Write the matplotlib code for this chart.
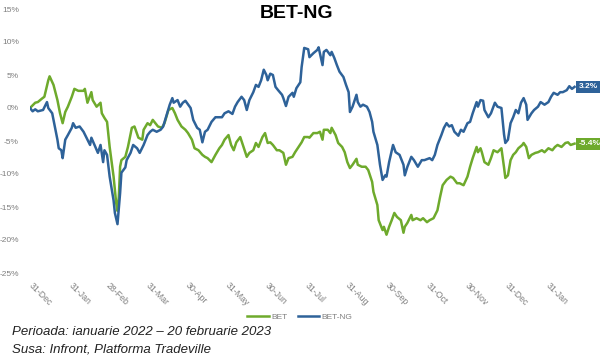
import numpy as np
import matplotlib
matplotlib.use("Agg")
import matplotlib.pyplot as plt
import matplotlib.dates as mdates

# days since 31-Dec-2021, % change
bet_days = [0, 4, 6, 9, 11, 14, 15, 18, 21, 23, 25, 27, 29, 32, 34, 37, 41, 42, 44, 47,
            48, 51, 54, 55, 57, 59, 61, 64, 66, 67, 68, 69, 70, 73, 75, 78, 80, 83, 86, 87,
            90, 92, 94, 96, 98, 101, 103, 106, 109, 111, 113, 116, 119, 121, 124, 126, 129, 132, 134, 136,
            139, 142, 145, 147, 149, 152, 154, 156, 158, 161, 163, 166, 168, 171, 173, 175, 178, 180, 182, 184,
            186, 189, 191, 194, 196, 198, 201, 203, 205, 208, 210, 213, 214, 217, 220, 222, 224, 225, 228, 230,
            231, 234, 236, 239, 241, 243, 245, 247, 250, 251, 254, 257, 259, 262, 263, 266, 267, 270, 271, 273,
            275, 277, 279, 281, 284, 286, 287, 289, 292, 293, 296, 299, 301, 304, 306, 309, 312, 314, 316, 319,
            322, 324, 327, 329, 332, 335, 337, 339, 342, 343, 345, 346, 348, 351, 353, 355, 358, 361, 363, 364,
            366, 368, 370, 372, 374, 377, 378, 380, 382, 384, 387, 389, 392, 394, 397, 400, 402, 404, 407, 410,
            412, 414, 417]
bet_vals = [0.0, 0.8, 0.9, 1.4, 1.7, 4.2, 4.8, 3.5, 1.2, -0.8, -2.3, -0.6, 0.2, 1.7, 2.9, 2.6, 2.6, 2.9, 0.8, 2.4,
            1.2, 0.2, 0.8, -0.8, -1.5, -2.1, -5.9, -10.4, -14.4, -15.6, -13.5, -8.9, -7.9, -7.4, -5.9, -3.0, -2.8, -4.5, -4.8, -3.3,
            -2.3, -2.6, -1.8, -2.3, -2.8, -3.0, -2.3, -0.3, 0.0, -0.8, -1.8, -2.8, -3.3, -3.8, -4.8, -6.1, -6.4, -7.1, -7.4, -7.6,
            -8.2, -7.1, -6.1, -5.6, -4.8, -4.1, -5.6, -6.4, -5.2, -4.4, -5.6, -7.4, -6.8, -6.4, -5.3, -5.9, -4.4, -3.8, -5.3, -5.2,
            -5.6, -6.4, -6.4, -6.8, -8.6, -7.6, -7.4, -6.7, -6.1, -5.2, -4.4, -4.4, -4.5, -3.8, -3.8, -3.6, -4.8, -3.3, -3.3, -3.8,
            -3.0, -4.1, -5.3, -5.9, -6.7, -8.2, -9.1, -8.6, -7.7, -8.6, -8.9, -8.9, -9.4, -11.2, -12.7, -14.7, -17.0, -18.5, -18.0, -19.2,
            -18.0, -17.0, -15.9, -16.5, -17.0, -18.9, -18.0, -17.4, -16.2, -17.0, -16.7, -17.0, -16.7, -17.3, -17.0, -16.7, -15.5, -13.5, -11.7, -10.9,
            -10.4, -10.6, -11.4, -11.4, -11.7, -10.4, -8.9, -7.6, -5.9, -6.7, -6.1, -6.7, -8.2, -8.6, -7.6, -6.4, -6.7, -6.1, -9.0, -10.6,
            -10.2, -7.9, -7.1, -6.7, -6.1, -5.6, -5.3, -5.9, -7.6, -7.1, -6.8, -6.7, -6.4, -6.7, -6.1, -6.4, -5.9, -5.6, -5.9, -5.3,
            -5.2, -5.6, -5.4]

betng_days = [0, 2, 4, 6, 10, 13, 14, 17, 19, 21, 22, 24, 25, 27, 29, 32, 33, 35, 38, 41,
              44, 46, 47, 50, 52, 54, 56, 57, 59, 61, 64, 65, 67, 69, 70, 73, 74, 77, 79, 82,
              84, 87, 90, 92, 94, 97, 100, 102, 105, 107, 109, 110, 113, 115, 117, 119, 123, 125, 128, 130,
              132, 134, 136, 139, 142, 144, 147, 149, 152, 155, 157, 159, 162, 164, 166, 168, 171, 173, 175, 177,
              179, 181, 182, 184, 186, 188, 190, 193, 194, 196, 198, 201, 202, 204, 207, 208, 210, 213, 214, 217,
              220, 221, 224, 225, 227, 230, 231, 233, 235, 237, 240, 242, 244, 245, 247, 250, 251, 253, 255, 258,
              260, 262, 263, 266, 268, 270, 272, 273, 275, 278, 280, 283, 286, 287, 289, 292, 294, 297, 300, 302,
              306, 308, 310, 312, 315, 317, 319, 321, 323, 325, 328, 330, 332, 335, 337, 339, 342, 343, 345, 347,
              348, 351, 353, 356, 358, 361, 363, 364, 366, 368, 370, 372, 374, 376, 378, 380, 381, 384, 386, 389,
              391, 394, 397, 399, 401, 404, 406, 408, 411, 413, 415, 417]
betng_vals = [0.0, -0.5, -0.2, -0.5, -0.3, 0.9, 0.0, -0.8, -2.8, -4.8, -6.1, -6.4, -7.6, -4.8, -4.1, -3.0, -2.3, -3.0, -2.8, -3.6,
              -4.8, -5.6, -4.5, -5.9, -6.8, -5.6, -8.2, -6.4, -7.1, -10.4, -14.0, -15.9, -17.6, -12.9, -9.8, -9.0, -7.9, -6.8, -5.6, -6.1,
              -6.8, -5.6, -4.1, -3.6, -3.3, -3.6, -3.3, -2.8, -0.8, 0.5, 1.5, 0.8, 1.2, 0.2, 0.8, 1.1, 0.0, -1.8, -3.0, -3.3,
              -5.2, -3.6, -3.3, -2.1, -1.4, -1.4, -1.4, -0.8, -0.5, -0.9, 0.2, 0.9, 1.7, 1.2, -0.3, 1.2, 2.4, 3.5, 3.2, 4.2,
              5.8, 5.0, 4.2, 5.2, 5.0, 3.2, 2.7, 2.0, 1.5, 0.3, 1.7, 2.3, 1.7, 3.0, 3.9, 6.2, 9.1, 8.9, 7.7, 8.3,
              8.8, 9.2, 6.5, 8.5, 8.8, 8.0, 8.5, 7.6, 6.5, 5.5, 4.7, 3.5, 2.4, -0.6, 0.2, 2.0, 0.9, 0.2, 0.5, 0.2,
              -0.6, -2.1, -3.6, -5.6, -8.6, -10.9, -10.2, -10.4, -8.2, -5.6, -6.7, -7.1, -8.6, -10.2, -8.9, -7.4, -7.9, -8.9, -7.9, -7.9,
              -7.6, -7.9, -7.1, -5.6, -4.1, -3.0, -2.3, -2.8, -2.6, -3.6, -4.2, -3.3, -3.6, -2.3, -2.1, -0.8, 0.9, 0.2, 1.2, 1.1,
              -0.3, -1.4, -0.8, 0.8, 0.2, 0.0, -4.0, -5.3, -4.8, -2.3, -1.4, -0.3, -0.8, 0.8, 1.5, 0.5, -1.8, -0.8, -0.3, 0.2,
              0.9, 0.5, 0.9, 1.7, 2.3, 2.0, 2.4, 2.4, 2.7, 3.3, 2.9, 3.2]

tick_dates = ["2021-12-31", "2022-01-31", "2022-02-28", "2022-03-31", "2022-04-30", "2022-05-31",
              "2022-06-30", "2022-07-31", "2022-08-31", "2022-09-30", "2022-10-31", "2022-11-30",
              "2022-12-31", "2023-01-31"]

green = "#6EAA2C"
blue = "#2E6299"
start = np.datetime64("2021-12-31")
bet_dates = start + np.array(bet_days).astype("timedelta64[D]")
betng_dates = start + np.array(betng_days).astype("timedelta64[D]")

plt.rcParams["font.family"] = ["Liberation Sans", "DejaVu Sans"]
fig = plt.figure(figsize=(6, 3.58), dpi=100)
ax = fig.add_axes([30 / 600, 1 - 273 / 358, 555 / 600, 264 / 358])

ax.plot(bet_dates, bet_vals, color=green, lw=1.8, label="BET")
ax.plot(betng_dates, betng_vals, color=blue, lw=1.8, label="BET-NG")

ax.set_ylim(-25, 15)
ax.set_yticks(range(-25, 20, 5))
ax.set_yticklabels([f"{v}%" for v in range(-25, 20, 5)], fontsize=6, color="#7f7f7f")
ax.set_xlim(start, start + np.timedelta64(425, "D"))
ax.set_xticks(np.array(tick_dates, dtype="datetime64[D]"))
ax.xaxis.set_major_formatter(mdates.DateFormatter("%d-%b"))
for lbl in ax.get_xticklabels():
    lbl.set_rotation(-45)
    lbl.set_rotation_mode("anchor")
    lbl.set_ha("left")
    lbl.set_va("center")
    lbl.set_fontsize(6.3)
    lbl.set_color("#7f7f7f")
ax.tick_params(axis="both", length=0)
ax.tick_params(axis="y", pad=8)
ax.tick_params(axis="x", pad=8)
for s in ax.spines.values():
    s.set_visible(False)

# end labels
for d, v, c in [(betng_dates[-1], betng_vals[-1], blue), (bet_dates[-1], bet_vals[-1], green)]:
    ax.annotate(f"{v:.1f}%", (d, v), xytext=(3, 0), textcoords="offset points",
                ha="left", va="center", fontsize=6, fontweight="bold", color="white",
                bbox=dict(boxstyle="square,pad=0.3", fc=c, ec="none"), annotation_clip=False)

fig.legend(loc="center", bbox_to_anchor=(300 / 600, 1 - 317 / 358), ncol=2, frameon=False,
           fontsize=6, labelcolor="#7f7f7f", handlelength=2.6, columnspacing=1.2, handletextpad=0.3)

fig.text(297 / 600, 1 - 14 / 358, "BET-NG", ha="center", va="center", fontsize=14, fontweight="bold")
fig.text(12 / 600, 1 - 332 / 358, "Perioada: ianuarie 2022 \u2013 20 februarie 2023",
         ha="left", va="center", fontsize=9.5, style="italic", color="#222222")
fig.text(12 / 600, 1 - 350 / 358, "Susa: Infront, Platforma Tradeville",
         ha="left", va="center", fontsize=9.5, style="italic", color="#222222")

fig.savefig("out.png", dpi=100)
